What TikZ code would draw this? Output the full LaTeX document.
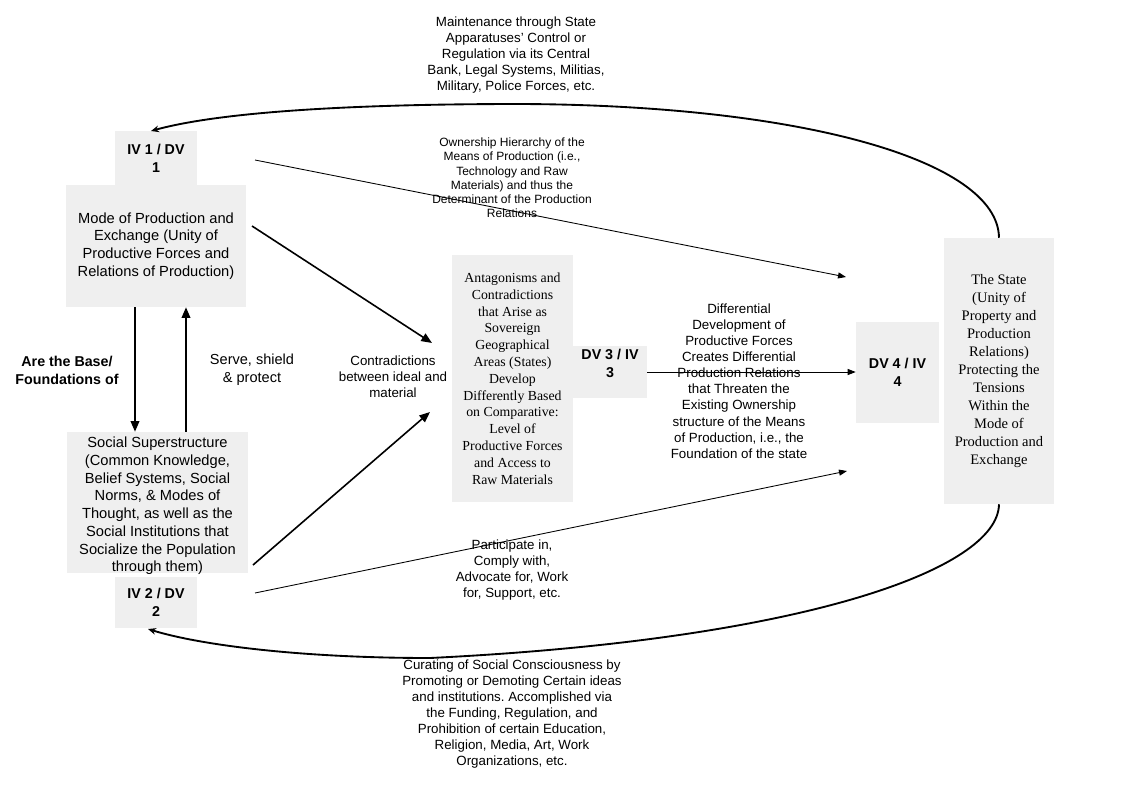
\documentclass[tikz,border=0pt]{standalone}
\usepackage{fontspec}
\setmainfont{Liberation Sans}
\newfontfamily\serifface{Liberation Serif}
\usetikzlibrary{arrows.meta}
\definecolor{boxgray}{RGB}{239,239,239}
\newcommand\fsMain{\fontsize{11}{13.3}\selectfont}
\newcommand\fsLab{\fontsize{10.7}{13.5}\selectfont}
\newcommand\fsMid{\fontsize{10}{12.1}\selectfont}
\newcommand\fsSmall{\fontsize{9}{10.65}\selectfont}
\newcommand\fsAnt{\fontsize{10.35}{12.6}\selectfont}
\newcommand\fsState{\fontsize{10.9}{13.5}\selectfont}
\frenchspacing
\begin{document}
\begin{tikzpicture}[x=0.75pt,y=-0.75pt,
  box/.style={fill=boxgray, draw=none, inner sep=0pt, align=center},
  lbl/.style={align=center, inner sep=0pt},
  thinarr/.style={-{Triangle[length=6pt,width=4.5pt]}, line width=0.65pt},
  thickarr/.style={-{Triangle[length=8pt,width=6.5pt]}, line width=1.2pt},
  curvarr/.style={-{Stealth[length=6pt,width=5pt]}, line width=1.4pt}]
\useasboundingbox (0,0) rectangle (1121,793);

% boxes
\node[box, minimum width=61.5pt, minimum height=40.5pt, font=\bfseries\fsLab] (iv1) at (156,158) {IV 1 / DV\\1};
\node[box, minimum width=135pt, minimum height=91.5pt, font=\fsMain] (mode) at (156,246)
  {Mode of Production and\\Exchange (Unity of\\Productive Forces and\\Relations of Production)};
\node[box, minimum width=135.75pt, minimum height=105.75pt] (social) at (157.5,502.5) {};
\node[lbl, font=\fsMain] (socialt) at (157.5,506)
  {Social Superstructure\\(Common Knowledge,\\Belief Systems, Social\\Norms, \& Modes of\\Thought, as well as the\\Social Institutions that\\Socialize the Population\\through them)};
\node[box, minimum width=61.5pt, minimum height=38.25pt, font=\bfseries\fsLab] (iv2) at (156,602.5) {IV 2 / DV\\2};
\node[box, minimum width=90.75pt, minimum height=185.25pt, font=\serifface\fsAnt] (antag) at (512.5,378.5)
  {Antagonisms and\\Contradictions\\that Arise as\\Sovereign\\Geographical\\Areas (States)\\Develop\\Differently Based\\on Comparative:\\Level of\\Productive Forces\\and Access to\\Raw Materials};
\node[box, minimum width=55.5pt, minimum height=39pt] (dv3) at (610,372) {};
\node[lbl, font=\bfseries\fsLab] (dv3t) at (610,363) {DV 3 / IV\\3};
\node[box, minimum width=62.25pt, minimum height=75.75pt, font=\bfseries\fsLab] (dv4) at (897.5,372) {DV 4 / IV\\4};
\node[box, minimum width=82.5pt, minimum height=199.5pt, font=\serifface\fsState] (state) at (999,371)
  {The State\\(Unity of\\Property and\\Production\\Relations)\\Protecting the\\Tensions\\Within the\\Mode of\\Production and\\Exchange};

% labels
\node[lbl, font=\fsMid] (toplbl) at (516,55)
  {Maintenance through State\\Apparatuses' Control or\\Regulation via its Central\\Bank, Legal Systems, Militias,\\Military, Police Forces, etc.};
\node[lbl, font=\fsSmall] (own) at (512,178)
  {Ownership Hierarchy of the\\Means of Production (i.e.,\\Technology and Raw\\Materials) and thus the\\Determinant of the Production\\Relations};
\node[lbl, font=\bfseries\fsLab] (base) at (67,370) {Are the Base/\\Foundations of};
\node[lbl, font=\fsState] (serve) at (252,370) {Serve, shield\\\& protect};
\node[lbl, font=\fsMid] (contra) at (393,377) {Contradictions\\between ideal and\\material};
\node[lbl, font=\fsMid] (diff) at (739,381)
  {Differential\\Development of\\Productive Forces\\Creates Differential\\Production Relations\\that Threaten the\\Existing Ownership\\structure of the Means\\of Production, i.e., the\\Foundation of the state};
\node[lbl, font=\fsMid] (part) at (512,570)
  {Participate in,\\Comply with,\\Advocate for, Work\\for, Support, etc.};
\node[lbl, font=\fsMid] (cur) at (512,714)
  {Curating of Social Consciousness by\\Promoting or Demoting Certain ideas\\and institutions. Accomplished via\\the Funding, Regulation, and\\Prohibition of certain Education,\\Religion, Media, Art, Work\\Organizations, etc.};

% connector end points
\coordinate (a1s) at (255,160);
\coordinate (a1e) at (846,277);
\coordinate (a2s) at (252,226);
\coordinate (a2e) at (432,343);
\coordinate (a3s) at (253,565);
\coordinate (a3e) at (430,412);
\coordinate (a4s) at (255,593);
\coordinate (a4e) at (847,471);
\coordinate (v1) at (135,0);
\coordinate (v2) at (186,0);
\coordinate (topend) at (151,131);
\coordinate (botend) at (148,629);

% connectors
\draw[thinarr] (a1s) -- (a1e);
\draw[thickarr] (a2s) -- (a2e);
\draw[thickarr] (a3s) -- (a3e);
\draw[thinarr] (a4s) -- (a4e);
\draw[thickarr] (v1 |- mode.south) -- (v1 |- social.north);
\draw[thickarr] (v2 |- social.north) -- (v2 |- mode.south);
\draw[thinarr] (dv3.east) -- (dv4.west);
\draw[curvarr] (state.north) .. controls (998,160) and (800,105) .. (520,104)
  .. controls (350,104) and (220,112) .. (topend);
\draw[curvarr] (state.south) .. controls (998,570) and (800,640) .. (430,658)
  .. controls (300,658) and (200,645) .. (botend);
\end{tikzpicture}
\end{document}
